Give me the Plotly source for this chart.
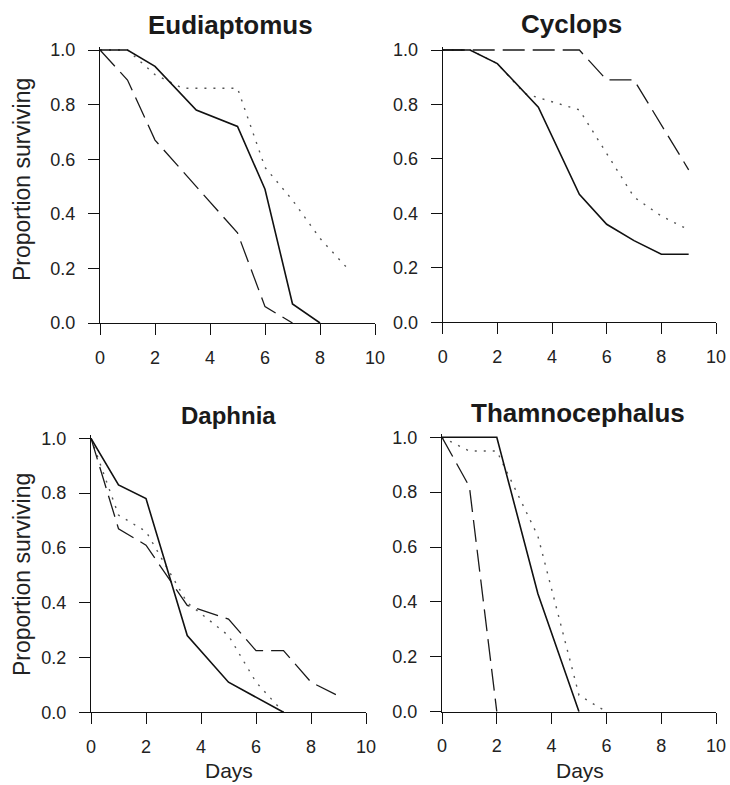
import plotly.graph_objects as go

W, H = 730, 785

# ---- data ----
titles = ["Eudiaptomus", "Cyclops", "Daphnia", "Thamnocephalus"]
x_ticks = [0, 2, 4, 6, 8, 10]
y_ticks = [0.0, 0.2, 0.4, 0.6, 0.8, 1.0]

eud_solid_x = [0, 1, 2, 3.5, 5, 6, 7, 8]
eud_solid_y = [1.0, 1.0, 0.94, 0.78, 0.72, 0.49, 0.07, 0.0]
eud_dot_x = [0, 1, 2, 3, 5, 6, 7, 8, 9]
eud_dot_y = [1.0, 1.0, 0.91, 0.86, 0.86, 0.57, 0.45, 0.31, 0.20]
eud_dash_x = [0, 1, 2, 5, 6, 7]
eud_dash_y = [1.0, 0.89, 0.67, 0.33, 0.06, 0.0]

cyc_solid_x = [0, 1, 2, 3.5, 5, 6, 7, 8, 9]
cyc_solid_y = [1.0, 1.0, 0.95, 0.79, 0.47, 0.36, 0.30, 0.25, 0.25]
cyc_dot_x = [0, 1, 2, 3, 5, 6, 7, 8, 9]
cyc_dot_y = [1.0, 1.0, 0.95, 0.84, 0.78, 0.62, 0.46, 0.39, 0.34]
cyc_dash_x = [0, 5, 6, 7, 9]
cyc_dash_y = [1.0, 1.0, 0.89, 0.89, 0.56]

dap_solid_x = [0, 1, 2, 3.5, 5, 7]
dap_solid_y = [1.0, 0.83, 0.78, 0.28, 0.11, 0.0]
dap_dot_x = [0, 1, 2, 3.5, 5, 6, 7]
dap_dot_y = [1.0, 0.72, 0.66, 0.40, 0.28, 0.11, 0.0]
dap_dash_x = [0, 1, 2, 3.5, 5, 6, 7, 8, 9]
dap_dash_y = [1.0, 0.67, 0.61, 0.39, 0.34, 0.225, 0.225, 0.11, 0.06]

tha_solid_x = [0, 2, 3.5, 5]
tha_solid_y = [1.0, 1.0, 0.43, 0.0]
tha_dot_x = [0, 1, 2, 3.5, 5, 6]
tha_dot_y = [1.0, 0.95, 0.95, 0.64, 0.06, 0.0]
tha_dash_x = [0, 1, 2]
tha_dash_y = [1.0, 0.82, 0.0]

panels = [
    (eud_solid_x, eud_solid_y, eud_dot_x, eud_dot_y, eud_dash_x, eud_dash_y),
    (cyc_solid_x, cyc_solid_y, cyc_dot_x, cyc_dot_y, cyc_dash_x, cyc_dash_y),
    (dap_solid_x, dap_solid_y, dap_dot_x, dap_dot_y, dap_dash_x, dap_dash_y),
    (tha_solid_x, tha_solid_y, tha_dot_x, tha_dot_y, tha_dash_x, tha_dash_y),
]

# ---- layout geometry (pixels) ----
# (x of day 0, x of day 10, y of 1.0, y of 0.0)
boxes = [
    (100, 375, 50, 323),
    (442.7, 716, 50, 322.3),
    (91, 366, 438.3, 712.3),
    (442, 716, 437.3, 711.7),
]
YMAX = 1.012

fig = go.Figure()
FONT = "Liberation Sans, Arial, sans-serif"

for i, (sx, sy, dx, dy, ax, ay) in enumerate(panels):
    xa = "x" if i == 0 else f"x{i+1}"
    ya = "y" if i == 0 else f"y{i+1}"
    fig.add_trace(go.Scatter(x=dx, y=dy, mode="lines", xaxis=xa, yaxis=ya,
                             line=dict(color="#555555", width=1.4, dash="2px,7px"),
                             showlegend=False, hoverinfo="skip"))
    fig.add_trace(go.Scatter(x=ax, y=ay, mode="lines", xaxis=xa, yaxis=ya,
                             line=dict(color="#1a1a1a", width=1.3, dash="22px,8px"),
                             showlegend=False, hoverinfo="skip"))
    fig.add_trace(go.Scatter(x=sx, y=sy, mode="lines", xaxis=xa, yaxis=ya,
                             line=dict(color="#111111", width=1.6),
                             showlegend=False, hoverinfo="skip"))

    x0, x1, yt, yb = boxes[i]
    ytop_px = yb - (yb - yt) * YMAX
    axis_common = dict(showline=True, linecolor="#111", linewidth=1.3,
                       ticks="outside", ticklen=11, tickwidth=1.3, tickcolor="#111",
                       showgrid=False, zeroline=False, automargin=False,
                       tickfont=dict(family=FONT, size=18, color="#222"))
    fig.layout[("xaxis" if i == 0 else f"xaxis{i+1}")] = dict(
        domain=[x0 / W, x1 / W], range=[0, 10], tickvals=x_ticks,
        anchor=ya, ticklabelstandoff=7, **axis_common)
    fig.layout[("yaxis" if i == 0 else f"yaxis{i+1}")] = dict(
        domain=[1 - yb / H, 1 - ytop_px / H], range=[0, YMAX], tickvals=y_ticks,
        tickformat=".1f", anchor=xa, ticklabelstandoff=9, **axis_common)

annotations = []
title_pos = [(230, 25, 26), (571.5, 24, 26), (228.5, 415, 24), (577.5, 413, 26)]
for t, (cx, cy, fs) in zip(titles, title_pos):
    annotations.append(dict(text=f"<b>{t}</b>", x=cx / W, y=1 - cy / H, xref="paper", yref="paper",
                            xanchor="center", yanchor="middle", showarrow=False,
                            font=dict(family=FONT, size=fs, color="#1a1a1a")))
for cy in (180, 575):
    annotations.append(dict(text="Proportion surviving", x=22 / W, y=1 - cy / H, xref="paper",
                            yref="paper", xanchor="center", yanchor="middle", textangle=-90,
                            showarrow=False, font=dict(family=FONT, size=23, color="#222")))
for cx in (228.5, 580):
    annotations.append(dict(text="Days", x=cx / W, y=1 - 770 / H, xref="paper", yref="paper",
                            xanchor="center", yanchor="middle", showarrow=False,
                            font=dict(family=FONT, size=21, color="#222")))

fig.update_layout(width=W, height=H, margin=dict(l=0, r=0, t=0, b=0),
                  paper_bgcolor="white", plot_bgcolor="white",
                  annotations=annotations)

fig.write_html("out.html", config={"displayModeBar": False},
               post_script="document.body.style.margin='0';document.body.style.overflow='hidden';")
